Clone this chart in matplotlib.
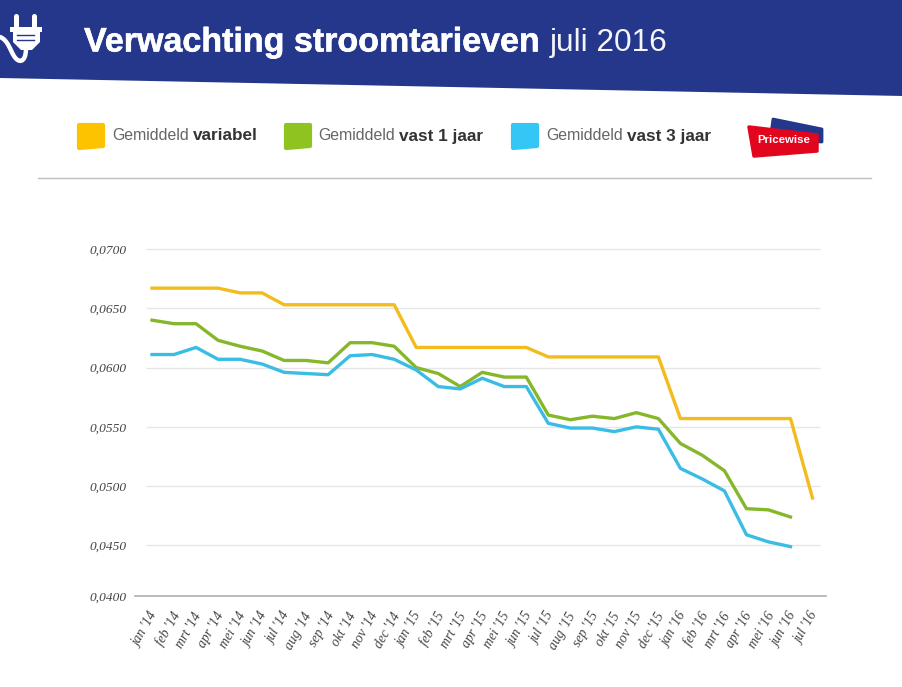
import matplotlib
matplotlib.use("Agg")
import matplotlib.pyplot as plt
import matplotlib.patheffects as pe
from matplotlib.patches import Polygon, FancyBboxPatch, PathPatch
from matplotlib.path import Path
from matplotlib.transforms import ScaledTranslation

months = ["jan '14", "feb '14", "mrt '14", "apr '14", "mei '14", "jun '14", "jul '14", "aug '14",
          "sep '14", "okt '14", "nov '14", "dec '14", "jan '15", "feb '15", "mrt '15", "apr '15",
          "mei '15", "jun '15", "jul '15", "aug '15", "sep '15", "okt '15", "nov '15", "dec '15",
          "jan '16", "feb '16", "mrt '16", "apr '16", "mei '16", "jun '16", "jul '16"]
variabel = [0.0667, 0.0667, 0.0667, 0.0667, 0.0663, 0.0663, 0.0653, 0.0653, 0.0653, 0.0653, 0.0653, 0.0653,
            0.0617, 0.0617, 0.0617, 0.0617, 0.0617, 0.0617, 0.0609, 0.0609, 0.0609, 0.0609, 0.0609, 0.0609,
            0.0557, 0.0557, 0.0557, 0.0557, 0.0557, 0.0557, 0.0490]
vast_1 = [0.0640, 0.0637, 0.0637, 0.0623, 0.0618, 0.0614, 0.0606, 0.0606, 0.0604, 0.0621, 0.0621, 0.0618,
          0.0600, 0.0595, 0.0584, 0.0596, 0.0592, 0.0592, 0.0560, 0.0556, 0.0559, 0.0557, 0.0562, 0.0557,
          0.0536, 0.0526, 0.0513, 0.0481, 0.0480, 0.0474, None]
vast_3 = [0.0611, 0.0611, 0.0617, 0.0607, 0.0607, 0.0603, 0.0596, 0.0595, 0.0594, 0.0610, 0.0611, 0.0607,
          0.0598, 0.0584, 0.0582, 0.0591, 0.0584, 0.0584, 0.0553, 0.0549, 0.0549, 0.0546, 0.0550, 0.0548,
          0.0515, 0.0506, 0.0496, 0.0459, 0.0453, 0.0449, None]
grid_values = [0.0450, 0.0500, 0.0550, 0.0600, 0.0650, 0.0700]
y_labels = ["0,0400", "0,0450", "0,0500", "0,0550", "0,0600", "0,0650", "0,0700"]

YELLOW = "#f3bc1c"
GREEN = "#86b72a"
BLUE = "#3abde4"
NAVY = "#24378a"
W, H = 903, 687

fig = plt.figure(figsize=(W / 100, H / 100), dpi=100, facecolor="white")

# decoration layer in pixel coordinates
bg = fig.add_axes([0, 0, 1, 1])
bg.set_xlim(0, W)
bg.set_ylim(H, 0)
bg.axis("off")

bg.add_patch(Polygon([(0, 0), (W, 0), (W, 96), (0, 78)], fc=NAVY, ec="none"))
sans = "Liberation Sans"
title = bg.text(84, 43, "Verwachting stroomtarieven", color="white", fontsize=24.5, fontweight="bold",
                family=sans, va="center", ha="left")
title.set_path_effects([pe.withStroke(linewidth=0.4, foreground="white")])
bg.text(550, 43, "juli 2016", color="#f4f6fb", fontsize=22.8, family=sans, va="center", ha="left")

# plug icon
bg.add_patch(FancyBboxPatch((14, 14), 5, 16, boxstyle="round,pad=0,rounding_size=2.5", fc="white", ec="none"))
bg.add_patch(FancyBboxPatch((32, 14), 5, 16, boxstyle="round,pad=0,rounding_size=2.5", fc="white", ec="none"))
bg.add_patch(Polygon([(10, 27), (42, 27), (42, 32), (40, 32), (40, 42), (32, 50), (21, 50), (13, 42), (13, 32), (10, 32)],
                     fc="white", ec="none"))
bg.plot([17, 34], [35, 35], color=NAVY, lw=1)
bg.plot([17, 34], [40, 40], color=NAVY, lw=1)
cord = Path([(0, 37), (8, 40), (10, 50), (14, 56), (18, 63), (26, 64), (26, 48)],
            [Path.MOVETO, Path.CURVE4, Path.CURVE4, Path.CURVE4, Path.CURVE4, Path.CURVE4, Path.CURVE4])
bg.add_patch(PathPatch(cord, fc="none", ec="white", lw=3.2, capstyle="round"))

# legend
legend_items = [(77, "#fdc300", "Gemiddeld", "variabel", 112, 193),
                (284, "#8fc31f", "Gemiddeld", "vast 1 jaar", 318, 399),
                (511, "#34c6f4", "Gemiddeld", "vast 3 jaar", 546, 627)]
for x0, col, light, bold, tx, bx in legend_items:
    bg.add_patch(Polygon([(x0 + 2, 125), (x0 + 26, 125), (x0 + 26, 146), (x0 + 2, 148)],
                         fc=col, ec=col, lw=3, joinstyle="round"))
    bg.text(tx, 136, light, color="#666666", fontsize=11.4, family=sans, va="center")
    bg.text(bx, 136, bold, color="#333333", fontsize=12.3, family=sans, fontweight="bold", va="center")

# logo
bg.add_patch(Polygon([(773, 119), (822, 129), (822, 142), (770, 140)], fc=NAVY, ec=NAVY, lw=2, joinstyle="round"))
bg.add_patch(Polygon([(749, 127), (817, 135), (817, 151), (754, 156)], fc="#e2051e", ec="#e2051e", lw=2.5, joinstyle="round"))
bg.text(784, 140, "Pricewise", color="white", fontsize=8.2, family=sans, fontweight="bold", ha="center", va="center")

bg.plot([38, 871], [177.5, 177.5], color="#bdbdbd", lw=1)

# chart: baseline sits at y=596 px, closer to 0,0450 than the label says
px_top, px_base = 230, 596
px_per_unit = 59.2 / 0.005
y_base = 0.0450 - (595.5 - 545) / px_per_unit
y_top = 0.0700 + (249 - px_top) / px_per_unit
x_first, x_last = 152, 812.5
x_step = (x_last - x_first) / 30
ax = fig.add_axes([135 / W, 1 - px_base / H, (826 - 135) / W, (px_base - px_top) / H])
ax.patch.set_alpha(0)
ax.set_xlim((135 - x_first) / x_step, (826 - x_first) / x_step)
ax.set_ylim(y_base, y_top)

ax.hlines(grid_values, (146 - x_first) / x_step, (820 - x_first) / x_step, color="#e6e6e6", lw=1, zorder=1)
xs = list(range(len(months)))
ax.plot(xs, [float("nan") if v is None else v for v in variabel], color=YELLOW, lw=2.4, zorder=3)
ax.plot(xs, [float("nan") if v is None else v for v in vast_1], color=GREEN, lw=2.4, zorder=3)
ax.plot(xs, [float("nan") if v is None else v for v in vast_3], color=BLUE, lw=2.4, zorder=4)

for s in ["top", "left", "right"]:
    ax.spines[s].set_visible(False)
ax.spines["bottom"].set_color("#b0b0b0")
ax.spines["bottom"].set_linewidth(1.2)

ax.set_yticks([y_base] + grid_values, y_labels, family="Liberation Serif", style="italic", fontsize=9.6, color="#444444")
ax.set_xticks(xs, months, rotation=60, ha="right", rotation_mode="anchor",
              family="Liberation Serif", style="italic", fontsize=9.8, color="#444444")
ax.tick_params(axis="y", length=0, pad=6)
ax.tick_params(axis="x", length=0, pad=10)
for lab in ax.get_xticklabels():
    lab.set_transform(lab.get_transform() + ScaledTranslation(-2 / 72, 0, fig.dpi_scale_trans))

fig.savefig("out.png", dpi=100)
